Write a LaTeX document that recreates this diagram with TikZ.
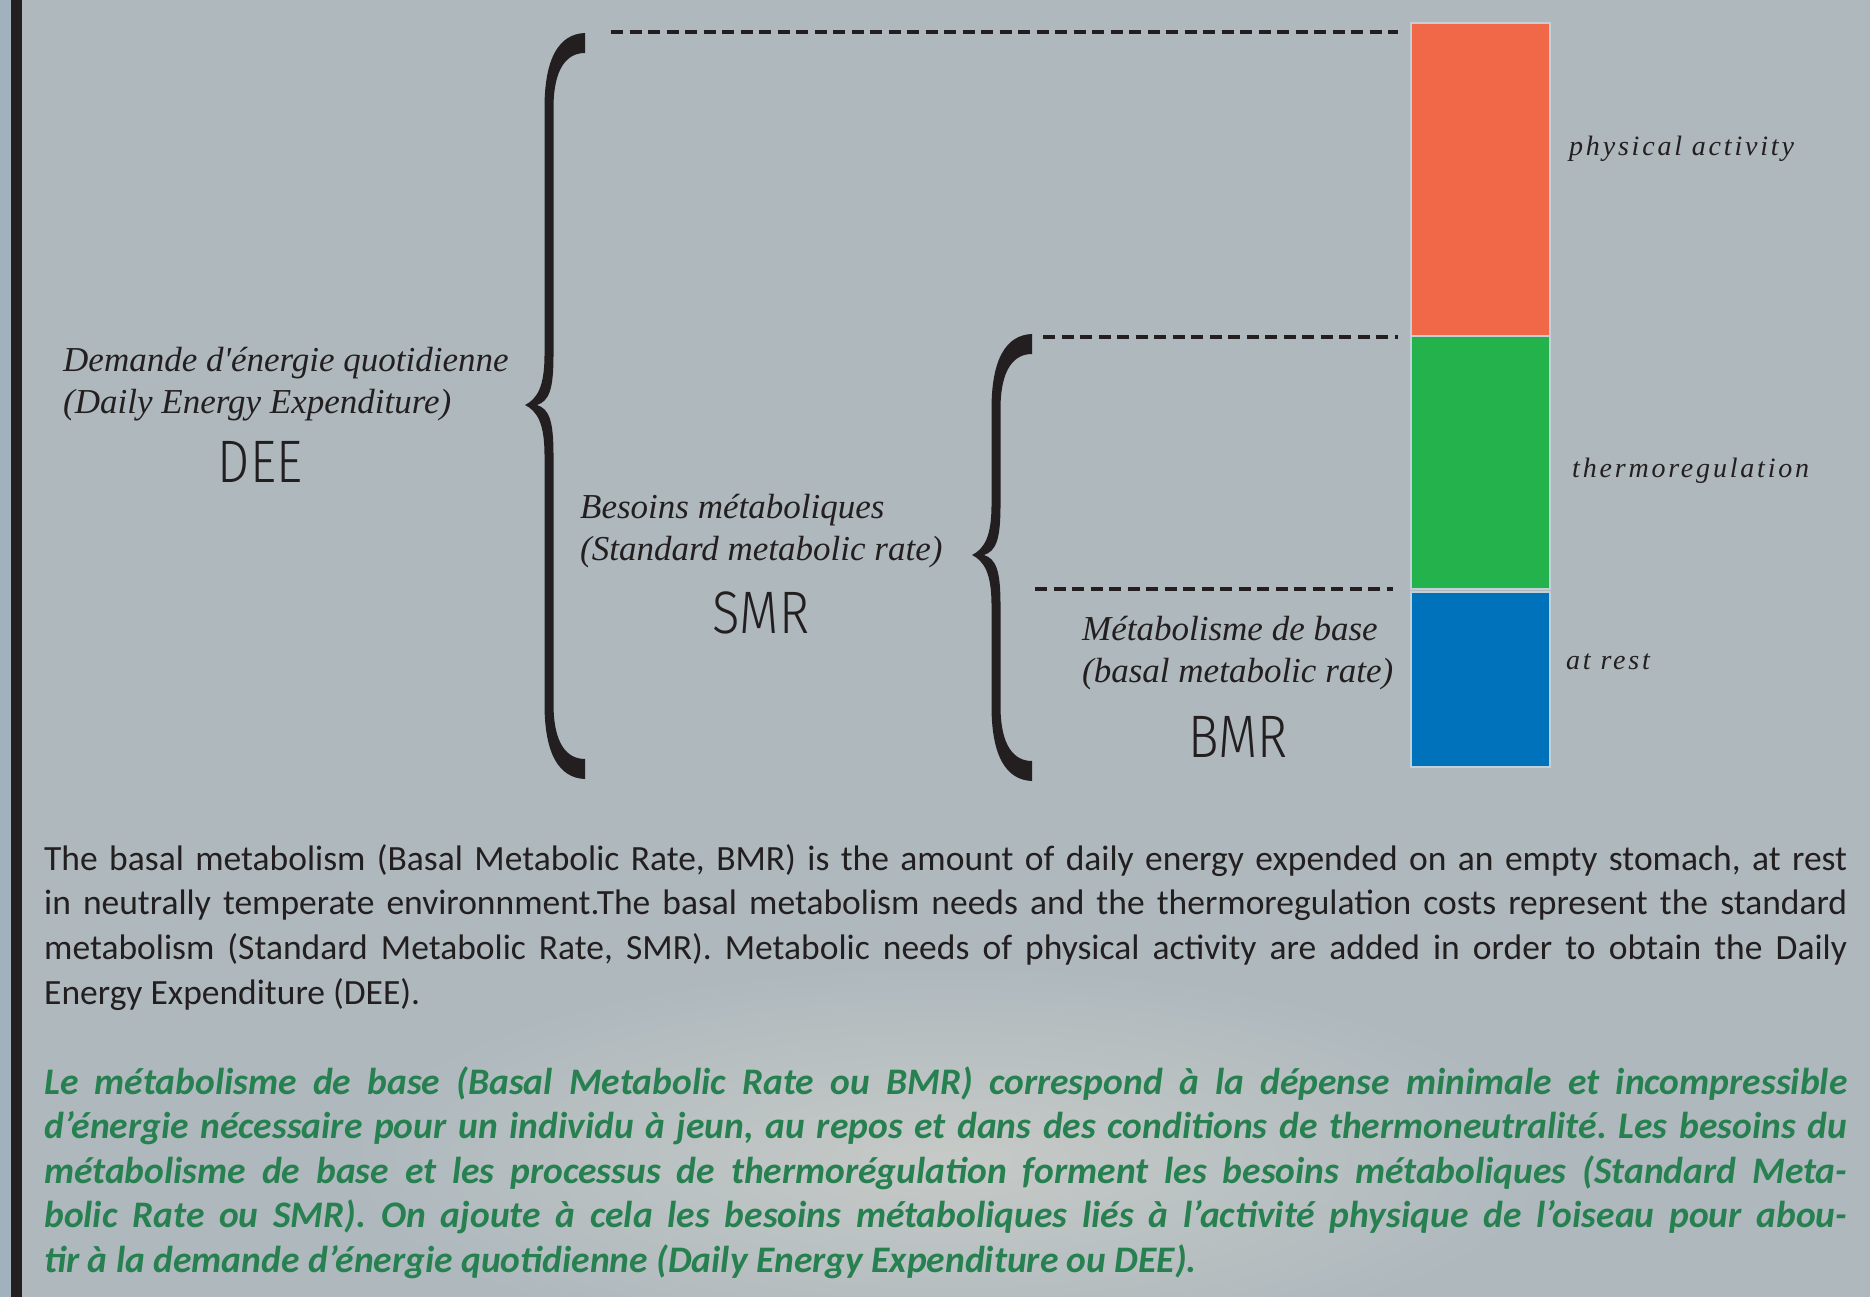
\documentclass[tikz,border=0pt]{standalone}
\usepackage{fontspec}
\setmainfont{Liberation Serif}
\newfontfamily\labelfont{Liberation Serif}
\newfontfamily\tagfont[LetterSpace=10]{Liberation Serif}
\IfFontExistsTF{Fira Sans Light}
  {\newfontfamily\acrofont[FakeStretch=0.85]{Fira Sans Light}}
  {\newfontfamily\acrofont[FakeStretch=0.85]{Liberation Sans}}
\newfontfamily\bodyfont{Carlito}

\definecolor{bgcol}{RGB}{174,184,189}
\definecolor{bglight}{RGB}{198,202,199}
\definecolor{edgecol}{RGB}{160,178,190}
\definecolor{inkcol}{RGB}{35,31,32}
\definecolor{actcol}{RGB}{241,104,73}
\definecolor{thermcol}{RGB}{35,178,76}
\definecolor{restcol}{RGB}{0,114,188}
\definecolor{barline}{RGB}{196,208,216}
\definecolor{frcol}{RGB}{38,128,80}

\tolerance=9999
\hyphenpenalty=10000
\frenchspacing

% curly brace: stem x, top y, middle y, bottom y
\newcommand\curlybrace[4]{%
  \fill[inkcol] ({#1+36},#2) .. controls ({#1+10},{#2+1}) and ({#1-4.5},{#2+25}) .. ({#1-4.5},{#2+75})
    -- ({#1-4.5},{#3-50}) .. controls ({#1-4.5},{#3-18}) and ({#1-12},{#3-6}) .. ({#1-24},#3)
    .. controls ({#1-12},{#3+6}) and ({#1-4.5},{#3+18}) .. ({#1-4.5},{#3+50})
    -- ({#1-4.5},{#4-75}) .. controls ({#1-4.5},{#4-25}) and ({#1+10},{#4-1}) .. ({#1+36},#4)
    -- ({#1+36},{#4-20}) .. controls ({#1+18},{#4-20}) and ({#1+4.5},{#4-35}) .. ({#1+4.5},{#4-75})
    -- ({#1+4.5},{#3+50}) .. controls ({#1+4.5},{#3+15}) and (#1,{#3+4}) .. ({#1-12},#3)
    .. controls (#1,{#3-4}) and ({#1+4.5},{#3-15}) .. ({#1+4.5},{#3-50})
    -- ({#1+4.5},{#2+75}) .. controls ({#1+4.5},{#2+35}) and ({#1+18},{#2+20}) .. ({#1+36},{#2+20})
    -- cycle;}

\begin{document}
\begin{tikzpicture}[x=1pt,y=-1pt,
  bar/.style={rectangle,draw=barline,line width=1.5pt,minimum width=139pt,inner sep=0pt},
  guide/.style={draw=inkcol,line width=3.5pt,dash pattern=on 12pt off 6.5pt},
  lbl/.style={inner sep=0pt,anchor=west,align=left,text=inkcol,font=\labelfont\itshape\fontsize{35}{42}\selectfont},
  tag/.style={inner sep=0pt,anchor=west,text=inkcol,font=\tagfont\itshape\fontsize{28}{34}\selectfont},
  acro/.style={inner sep=0pt,text=inkcol,font=\acrofont\fontsize{60}{62}\selectfont},
  para/.style={inner sep=0pt,anchor=base west,text width=1803pt,align=justify}]

  \useasboundingbox (0,0) rectangle (1870,1297);
  \fill[bgcol] (0,0) rectangle (1870,1297);
  \shade[inner color=bglight,outer color=bgcol] (950,1160) ellipse (620 and 200);
  \fill[edgecol] (0,0) rectangle (11,1297);
  \fill[inkcol] (11,0) rectangle (22,1297);

  % stacked bar
  \node[bar,fill=actcol,minimum height=313pt] (act) at (1480.5,179.5) {};
  \node[bar,fill=thermcol,minimum height=253pt] (therm) at (1480.5,462.5) {};
  \node[bar,fill=restcol,minimum height=175pt] (rest) at (1480.5,679.5) {};

  \node[tag] (tact) at (1569,149) {physical activity};
  \node[tag] (ttherm) at (1572,471) {thermoregulation};
  \node[tag] (trest) at (1566,662) {at rest};

  % braces and guides
  \curlybrace{549}{33}{405}{779}
  \curlybrace{996}{334}{555}{781}

  \coordinate (gtop) at (611,32);
  \coordinate (gmid) at (1043,337);
  \coordinate (glow) at (1035,589);
  \draw[guide,shorten >=12pt] (gtop) -- (gtop -| act.west);
  \draw[guide,shorten >=12pt] (gmid) -- (gmid -| therm.west);
  \draw[guide,shorten >=17pt] (glow) -- (glow -| rest.west);

  % labels
  \node[lbl] (ldee) at (63,384) {Demande d'énergie quotidienne\\(Daily Energy Expenditure)};
  \node[acro] (dee) at (260,462) {DEE};
  \node[lbl] (lsmr) at (580,531) {Besoins métaboliques\\(Standard metabolic rate)};
  \node[acro] (smr) at (761,613) {SMR};
  \node[lbl] (lbmr) at (1082,653) {Métabolisme de base\\(basal metabolic rate)};
  \node[acro] (bmr) at (1238,737) {BMR};

  % captions
  \node[para,text=inkcol,font=\bodyfont\fontsize{35.5}{44.7}\selectfont] (entext) at (44,870)
    {The basal metabolism (Basal Metabolic Rate, BMR) is the amount of daily energy expended on an empty stomach, at rest\linebreak
     in neutrally temperate environnment.The basal metabolism needs and the thermoregulation costs represent the standard\linebreak
     metabolism (Standard Metabolic Rate, SMR). Metabolic needs of physical activity are added in order to obtain the Daily\linebreak
     Energy Expenditure (DEE).};
  \node[para,text=frcol,font=\bodyfont\bfseries\itshape\fontsize{37.5}{44.5}\selectfont] (frtext) at (44,1094)
    {Le métabolisme de base (Basal Metabolic Rate ou BMR) correspond à la dépense minimale et incompressible\linebreak
     d’énergie nécessaire pour un individu à jeun, au repos et dans des conditions de thermoneutralité. Les besoins du\linebreak
     métabolisme de base et les processus de thermorégulation forment les besoins métaboliques (Standard Meta-\linebreak
     bolic Rate ou SMR). On ajoute à cela les besoins métaboliques liés à l’activité physique de l’oiseau pour abou-\linebreak
     tir à la demande d’énergie quotidienne (Daily Energy Expenditure ou DEE).};
\end{tikzpicture}
\end{document}
